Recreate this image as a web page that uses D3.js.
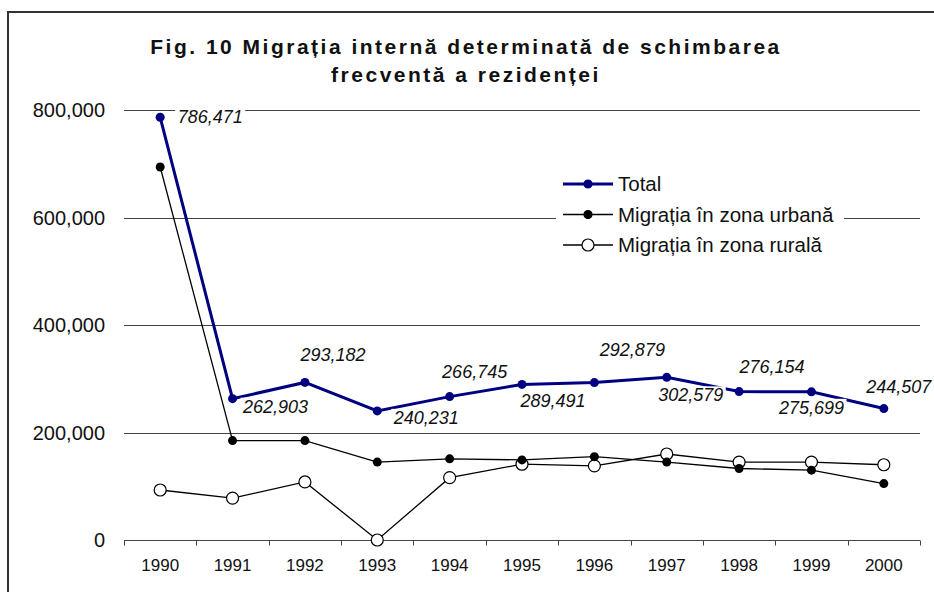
<!DOCTYPE html>
<html>
<head>
<meta charset="utf-8">
<script src="https://cdn.jsdelivr.net/npm/d3@7"></script>
<style>
	body { margin: 0; background: #fff; }
	svg text { font-family: "Liberation Sans", Arial, sans-serif; }
</style>
</head>
<body>
<svg id="chart" width="934" height="592"></svg>
<script>
(function (d3) {
	"use strict";

	/***** Data *****/
	var years = ["1990", "1991", "1992", "1993", "1994", "1995", "1996", "1997", "1998", "1999", "2000"];
	var total = [786471, 262903, 293182, 240231, 266745, 289491, 292879, 302579, 276154, 275699, 244507];
	var urban = [694000, 185000, 185000, 145000, 151000, 149000, 155000, 145000, 133000, 130000, 105000];
	var rural = [93000, 78000, 108000, 0, 116000, 141000, 138000, 160000, 145000, 145000, 140000];
	var yTicks = [0, 200000, 400000, 600000, 800000];

	// where each total label sits relative to its point (center dx, baseline dy)
	var labelOffsets = [[50, 6], [43, 14], [28, -21], [49, 13], [25, -19], [31, 23],
		[38, -27], [24, 24], [33, -19], [0, 22], [15, -16]];

	/***** Layout *****/
	var plot = {left: 124, right: 920, top: 110, bottom: 540};
	var svg = d3.select("#chart");

	var x = d3.scaleBand().domain(years).range([plot.left, plot.right]);
	var y = d3.scaleLinear().domain([0, 800000]).range([plot.bottom, plot.top]);
	var fmt = d3.format(",");
	var cx = function (i) { return x(years[i]) + x.bandwidth() / 2; };

	// frame (only top and left edges visible)
	svg.append("path")
		.attr("d", "M8,592V12H934")
		.attr("fill", "none")
		.attr("stroke", "#333")
		.attr("stroke-width", 2);

	// title
	var title = svg.append("text")
		.attr("text-anchor", "middle")
		.attr("font-weight", "bold")
		.attr("font-size", 21)
		.attr("letter-spacing", 2.5)
		.attr("fill", "#111");
	title.append("tspan").attr("x", 466).attr("y", 54).text("Fig. 10 Migrația internă determinată de schimbarea");
	title.append("tspan").attr("x", 466).attr("y", 82).text("frecventă a rezidenței");

	// gridlines
	svg.append("g").selectAll("line")
		.data(yTicks.filter(function (t) { return t > 0; }))
		.join("line")
		.attr("x1", plot.left).attr("x2", plot.right)
		.attr("y1", function (d) { return Math.round(y(d)) + 0.5; })
		.attr("y2", function (d) { return Math.round(y(d)) + 0.5; })
		.attr("stroke", "#444");

	// y labels
	svg.append("g").selectAll("text")
		.data(yTicks)
		.join("text")
		.attr("x", 105)
		.attr("y", function (d) { return y(d); })
		.attr("dy", "0.35em")
		.attr("text-anchor", "end")
		.attr("font-size", 20)
		.attr("fill", "#111")
		.text(function (d) { return fmt(d); });

	// x axis
	var xAxis = svg.append("g").attr("transform", "translate(0," + (plot.bottom + 0.5) + ")");
	xAxis.append("line")
		.attr("x1", plot.left).attr("x2", plot.right)
		.attr("stroke", "#444");
	var bounds = years.map(function (yr) { return x(yr); }).concat([plot.right]);
	xAxis.selectAll("line.tick")
		.data(bounds)
		.join("line")
		.attr("class", "tick")
		.attr("x1", function (d) { return Math.round(d) + 0.5; })
		.attr("x2", function (d) { return Math.round(d) + 0.5; })
		.attr("y1", 0).attr("y2", 5)
		.attr("stroke", "#444");
	xAxis.selectAll("text")
		.data(years)
		.join("text")
		.attr("x", function (d) { return x(d) + x.bandwidth() / 2; })
		.attr("y", 30)
		.attr("text-anchor", "middle")
		.attr("font-size", 17)
		.attr("fill", "#111")
		.text(function (d) { return d; });

	// legend background (hides the gridline behind it)
	svg.append("rect")
		.attr("x", 556).attr("y", 170).attr("width", 288).attr("height", 90)
		.attr("fill", "#fff");

	var line = d3.line()
		.x(function (d, i) { return cx(i); })
		.y(function (d) { return y(d); });

	// rural
	svg.append("path").datum(rural)
		.attr("d", line).attr("fill", "none")
		.attr("stroke", "#000").attr("stroke-width", 1.3);
	svg.append("g").selectAll("circle")
		.data(rural).join("circle")
		.attr("cx", function (d, i) { return cx(i); })
		.attr("cy", function (d) { return y(d); })
		.attr("r", 6)
		.attr("fill", "#fff").attr("stroke", "#000").attr("stroke-width", 1.2);

	// urban
	svg.append("path").datum(urban)
		.attr("d", line).attr("fill", "none")
		.attr("stroke", "#000").attr("stroke-width", 1.3);
	svg.append("g").selectAll("circle")
		.data(urban).join("circle")
		.attr("cx", function (d, i) { return cx(i); })
		.attr("cy", function (d) { return y(d); })
		.attr("r", 4.5)
		.attr("fill", "#000");

	// total
	svg.append("path").datum(total)
		.attr("d", line).attr("fill", "none")
		.attr("stroke", "#000080").attr("stroke-width", 3);
	svg.append("g").selectAll("circle")
		.data(total).join("circle")
		.attr("cx", function (d, i) { return cx(i); })
		.attr("cy", function (d) { return y(d); })
		.attr("r", 4.5)
		.attr("fill", "#000080");

	// total value labels, with white backing
	var labels = svg.append("g").selectAll("g")
		.data(total).join("g")
		.attr("transform", function (d, i) {
			return "translate(" + (cx(i) + labelOffsets[i][0]) + "," + (y(d) + labelOffsets[i][1]) + ")";
		});
	labels.append("rect")
		.attr("x", -35).attr("y", -15).attr("width", 70).attr("height", 20)
		.attr("fill", "#fff");
	labels.append("text")
		.attr("text-anchor", "middle")
		.attr("font-size", 18)
		.attr("font-style", "italic")
		.attr("fill", "#111")
		.text(function (d) { return fmt(d); });

	// legend
	var legendItems = [
		{name: "Total", color: "#000080", width: 3, r: 4, fill: "#000080"},
		{name: "Migrația în zona urbană", color: "#000", width: 1.3, r: 4, fill: "#000"},
		{name: "Migrația în zona rurală", color: "#000", width: 1.3, r: 6, fill: "#fff"}
	];
	var legend = svg.append("g").selectAll("g")
		.data(legendItems).join("g")
		.attr("transform", function (d, i) { return "translate(563," + (184 + i * 30.5) + ")"; });
	legend.append("line")
		.attr("x1", 0).attr("x2", 50)
		.attr("stroke", function (d) { return d.color; })
		.attr("stroke-width", function (d) { return d.width; });
	legend.append("circle")
		.attr("cx", 25).attr("r", function (d) { return d.r; })
		.attr("fill", function (d) { return d.fill; })
		.attr("stroke", function (d) { return d.color; })
		.attr("stroke-width", 1.2);
	legend.append("text")
		.attr("x", 55).attr("dy", "0.35em")
		.attr("font-size", 20.5)
		.attr("fill", "#111")
		.text(function (d) { return d.name; });

})(d3);
</script>
</body>
</html>
